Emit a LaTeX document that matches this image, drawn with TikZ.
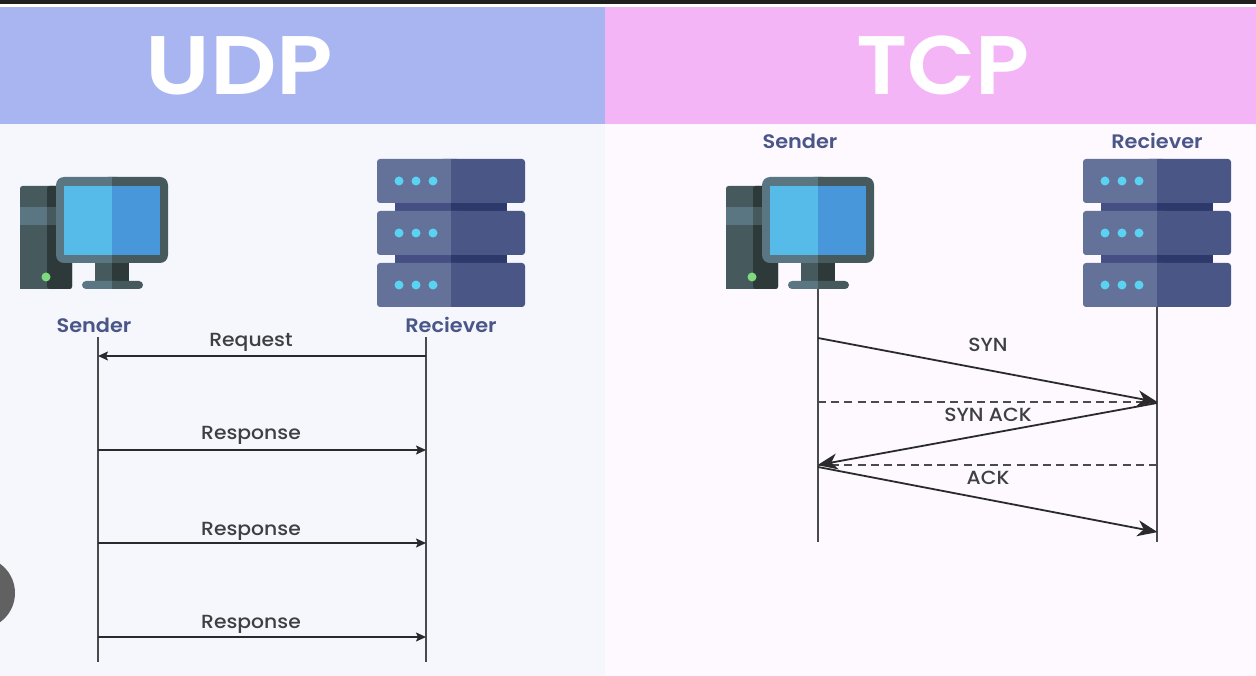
\documentclass[tikz,border=0pt]{standalone}
\usepackage{fontspec}
\setmainfont{Poppins}
\newfontfamily\semifont[FakeStretch=1.07,UprightFont={* SemiBold}]{Poppins}
\newfontfamily\medfont[FakeStretch=1.07,UprightFont={* Medium}]{Poppins}
\usetikzlibrary{arrows.meta}
\definecolor{udphead}{HTML}{A9B5F1}
\definecolor{tcphead}{HTML}{F4B5F7}
\definecolor{udpbg}{HTML}{F5F7FD}
\definecolor{tcpbg}{HTML}{FDF9FE}
\definecolor{lab}{HTML}{4A5688}
\definecolor{ink}{HTML}{2A2A2C}
\definecolor{cLight}{HTML}{5B7683}
\definecolor{cDark}{HTML}{465A5E}
\definecolor{cDarker}{HTML}{2D3A39}
\definecolor{scrL}{HTML}{57BBEA}
\definecolor{scrR}{HTML}{4897DB}
\definecolor{srvL}{HTML}{647199}
\definecolor{srvR}{HTML}{4A5686}
\definecolor{srvLink}{HTML}{454F83}
\definecolor{srvLinkD}{HTML}{2D386B}
\definecolor{dotc}{HTML}{5AD2F2}
\definecolor{ledc}{HTML}{7FD97F}
\tikzset{
  x=1pt,y=-1pt,
  headtext/.style={font=\semifont\fontsize{83}{83}\selectfont,text=white,anchor=base,inner sep=0pt},
  who/.style={font=\semifont\fontsize{19.5}{19.5}\selectfont,text=lab,inner sep=0pt},
  msg/.style={font=\medfont\fontsize{19}{19}\selectfont,text=ink!90,inner sep=0pt},
  life/.style={draw=ink!85,line width=1.8pt},
  small/.style={draw=ink,line width=1.6pt,-{Stealth[length=10pt,width=9pt,inset=2pt]}},
  big/.style={draw=ink,line width=1.8pt,-{Stealth[length=20pt,width=16pt,inset=6pt]},shorten >=-0.5pt},
  guide/.style={draw=ink!85,line width=1.7pt,dash pattern=on 8pt off 5.24pt},
  pc/.pic={
    \fill[cDark,rounded corners=2.5pt] (20,186) rectangle (72,289);
    \fill[cDarker,rounded corners=2.5pt] (47,186) rectangle (72,289);
    \fill[cDark] (20,200) rectangle (47,289);
    \fill[cLight] (20,207) rectangle (47,225);
    \fill[cDark] (47,207) rectangle (56,225);
    \fill[ledc] (46,277) circle (4.5);
    \fill[cDark] (95,260) rectangle (112,282);
    \fill[cDarker] (112,260) rectangle (129,282);
    \fill[cLight,rounded corners=4pt] (82,281) rectangle (118,289);
    \fill[cDark,rounded corners=4pt] (106,281) rectangle (143,289);
    \fill[cLight] (100,281) rectangle (112,289);
    \fill[cLight,rounded corners=8pt] (56,177) rectangle (125,263);
    \fill[cDark,rounded corners=8pt] (100,177) rectangle (168,263);
    \fill[cLight] (100,177) rectangle (112,263);
    \fill[scrL] (64,186) rectangle (112,255);
    \fill[scrR] (112,186) rectangle (160,255);
  },
  rack/.pic={
    \foreach \t in {203,255}{
      \fill[srvLink] (395,\t) rectangle (451,\t+8);
      \fill[srvLinkD] (451,\t) rectangle (507,\t+8);
    }
    \foreach \t/\m in {159/181,211/233,263/285}{
      \fill[srvL,rounded corners=3pt] (377,\t) rectangle (460,\t+44);
      \fill[srvR,rounded corners=3pt] (440,\t) rectangle (525,\t+44);
      \fill[srvL] (440,\t) rectangle (451,\t+44);
      \foreach \d in {399,416,433} \fill[dotc] (\d,\m) circle (4.5);
    }
  }
}
\begin{document}
\begin{tikzpicture}
\useasboundingbox (0,0) rectangle (1256,676);
% backgrounds
\fill[white] (0,0) rectangle (1256,676);
\fill[udpbg] (0,124) rectangle (605,676);
\fill[tcpbg] (605,124) rectangle (1256,676);
\fill[udphead] (0,7) rectangle (605,124);
\fill[tcphead] (605,7) rectangle (1256,124);
\fill[black!88] (0,0) rectangle (1256,4);
\begin{scope}
\clip (0,0) rectangle (1256,676);
\fill[black!62] (-21,593) circle (36);
\end{scope}
% titles
\node[headtext,xscale=1.045,transform shape] (udp) at (239.5,94.5) {UDP};
\node[headtext] (tcp) at (943,94.5) {TCP};
% icons
\pic at (0,0) {pc};
\pic at (0,0) {rack};
\pic at (706,0) {pc};
\pic at (706,0) {rack};
% labels
\node[who] (us) at (94,325) {Sender};
\node[who] (ur) at (451,325) {Reciever};
\node[who] (ts) at (800,141) {Sender};
\node[who] (tr) at (1157,141) {Reciever};
% lifeline ends
\coordinate (uaT) at (98,337);  \coordinate (uaB) at (98,662);
\coordinate (ubT) at (426,337); \coordinate (ubB) at (426,662);
\coordinate (taT) at (818,289); \coordinate (taB) at (818,542);
\coordinate (tbT) at (1157,307);\coordinate (tbB) at (1157,542);
\draw[life] (uaT) -- (uaB);
\draw[life] (ubT) -- (ubB);
\draw[life] (taT) -- (taB);
\draw[life] (tbT) -- (tbB);
% UDP messages
\foreach \n/\y in {r/356,a/450,b/543,c/637}{
  \coordinate (ul\n) at (98,\y);
  \coordinate (ur\n) at (426,\y);
}
\draw[small] (urr) -- (ulr);
\draw[small] (ula) -- (ura);
\draw[small] (ulb) -- (urb);
\draw[small] (ulc) -- (urc);
\node[msg] (m1) at (251,342) {Request};
\node[msg] (m2) at (251,435) {Response};
\node[msg] (m3) at (251,531) {Response};
\node[msg] (m4) at (251,624) {Response};
% TCP messages
\coordinate (s1) at (818,338);
\coordinate (e1) at (1157,402);
\coordinate (s2) at (1157,403);
\coordinate (e2) at (818,465);
\coordinate (s3) at (818,467);
\coordinate (e3) at (1157,532);
\coordinate (g1) at (818,402);
\coordinate (g2) at (1157,402);
\coordinate (g3) at (818,465);
\coordinate (g4) at (1157,465);
\draw[guide] (g1) -- (g2);
\draw[guide] (g3) -- (g4);
\draw[big] (s1) -- (e1);
\draw[big] (s2) -- (e2);
\draw[big] (s3) -- (e3);
\node[msg] (t1) at (988,345) {SYN};
\node[msg] (t2) at (988,415) {SYN ACK};
\node[msg] (t3) at (988,478) {ACK};
\end{tikzpicture}
\end{document}
